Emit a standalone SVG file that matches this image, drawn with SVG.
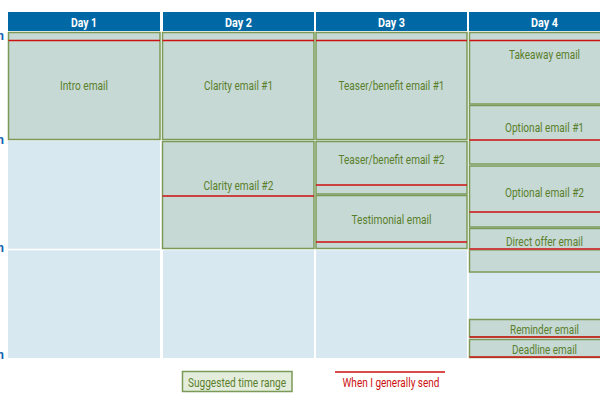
<svg xmlns="http://www.w3.org/2000/svg" width="600" height="400" viewBox="0 0 600 400">
<style>
.hdr{fill:#0069a5}
.hdrt{fill:#ffffff;font-family:Roboto,"DejaVu Sans",sans-serif;font-weight:bold;font-size:13px;text-anchor:middle}
.cell{fill:#d8e8f1}
.box{fill:#c6d9d4;stroke:#7b9a58;stroke-width:1.5}
.send{stroke:#cc1111;stroke-width:1.5}
.lbl{fill:#5a7f2c;font-family:Roboto,"DejaVu Sans",sans-serif;font-size:13px;text-anchor:middle}
.time{fill:#1060b0;font-family:Roboto,"DejaVu Sans",sans-serif;font-size:12px;font-weight:bold;text-anchor:end}
.sep{stroke:#ffffff;stroke-width:1.5}
</style>
<rect width="600" height="400" fill="#ffffff"/>
<g id="grid">
<rect class="hdr" x="8" y="12" width="152" height="19"/>
<rect class="hdr" x="163" y="12" width="151" height="19"/>
<rect class="hdr" x="316" y="12" width="151" height="19"/>
<rect class="hdr" x="469" y="12" width="151" height="19"/>
<text class="hdrt" x="84" y="26.5" textLength="26" lengthAdjust="spacingAndGlyphs">Day 1</text>
<text class="hdrt" x="238.5" y="26.5" textLength="27" lengthAdjust="spacingAndGlyphs">Day 2</text>
<text class="hdrt" x="391.5" y="26.5" textLength="27" lengthAdjust="spacingAndGlyphs">Day 3</text>
<text class="hdrt" x="544.5" y="26.5" textLength="27" lengthAdjust="spacingAndGlyphs">Day 4</text>
<rect class="cell" x="8" y="33" width="152" height="325"/>
<rect class="cell" x="163" y="33" width="151" height="325"/>
<rect class="cell" x="316" y="33" width="151" height="325"/>
<rect class="cell" x="469" y="33" width="151" height="325"/>
<line class="sep" x1="8" y1="140" x2="620" y2="140"/>
<line class="sep" x1="8" y1="249.5" x2="620" y2="249.5"/>
<text class="time" x="4" y="40">8am</text>
<text class="time" x="4" y="144">12pm</text>
<text class="time" x="4" y="252">4pm</text>
<text class="time" x="4" y="359">8pm</text>
</g>
<g id="intro">
<rect class="box" x="8.5" y="32.5" width="151.5" height="107"/>
<line class="send" x1="8.5" y1="40.5" x2="160" y2="40.5"/>
<text class="lbl" x="84" y="89.5" textLength="48" lengthAdjust="spacingAndGlyphs">Intro email</text>
</g>
<g id="clarity1">
<rect class="box" x="162.5" y="32.5" width="151.5" height="107"/>
<line class="send" x1="162.5" y1="40.5" x2="314" y2="40.5"/>
<text class="lbl" x="238.5" y="89.5" textLength="69" lengthAdjust="spacingAndGlyphs">Clarity email #1</text>
</g>
<g id="clarity2">
<rect class="box" x="162.5" y="141.5" width="151.5" height="107"/>
<line class="send" x1="162.5" y1="196" x2="314" y2="196"/>
<text class="lbl" x="238.5" y="189.5" textLength="70" lengthAdjust="spacingAndGlyphs">Clarity email #2</text>
</g>
<g id="teaser1">
<rect class="box" x="316" y="32.5" width="151" height="107"/>
<line class="send" x1="316" y1="40.5" x2="467" y2="40.5"/>
<text class="lbl" x="391.5" y="89.5" textLength="106" lengthAdjust="spacingAndGlyphs">Teaser/benefit email #1</text>
</g>
<g id="teaser2">
<rect class="box" x="316" y="141.5" width="151" height="52.5"/>
<line class="send" x1="316" y1="185" x2="467" y2="185"/>
<text class="lbl" x="391.5" y="163.5" textLength="106" lengthAdjust="spacingAndGlyphs">Teaser/benefit email #2</text>
</g>
<g id="testimonial">
<rect class="box" x="316" y="195.5" width="151" height="53"/>
<line class="send" x1="316" y1="242" x2="467" y2="242"/>
<text class="lbl" x="391.5" y="223.5" textLength="80" lengthAdjust="spacingAndGlyphs">Testimonial email</text>
</g>
<g id="takeaway">
<rect class="box" x="469.5" y="32.5" width="151" height="71.5"/>
<line class="send" x1="469.5" y1="40.5" x2="620" y2="40.5"/>
<text class="lbl" x="544.5" y="58.5" textLength="71" lengthAdjust="spacingAndGlyphs">Takeaway email</text>
</g>
<g id="optional1">
<rect class="box" x="469.5" y="105.5" width="151" height="58.5"/>
<line class="send" x1="469.5" y1="140" x2="620" y2="140"/>
<text class="lbl" x="544.5" y="131.5" textLength="79" lengthAdjust="spacingAndGlyphs">Optional email #1</text>
</g>
<g id="optional2">
<rect class="box" x="469.5" y="166" width="151" height="61"/>
<line class="send" x1="469.5" y1="212" x2="620" y2="212"/>
<text class="lbl" x="544.5" y="196.5" textLength="79" lengthAdjust="spacingAndGlyphs">Optional email #2</text>
</g>
<g id="directoffer">
<rect class="box" x="469.5" y="228.5" width="151" height="43.5"/>
<line class="send" x1="469.5" y1="249" x2="620" y2="249"/>
<line x1="469.5" y1="250.5" x2="620" y2="250.5" stroke="#9bb88a" stroke-width="1"/>
<text class="lbl" x="544.5" y="245.5" textLength="77" lengthAdjust="spacingAndGlyphs">Direct offer email</text>
</g>
<g id="reminder">
<rect class="box" x="469.5" y="319.5" width="151" height="17.5"/>
<line class="send" x1="469.5" y1="337" x2="620" y2="337"/>
<text class="lbl" x="544.5" y="333.5" textLength="69" lengthAdjust="spacingAndGlyphs">Reminder email</text>
</g>
<g id="deadline">
<rect class="box" x="469.5" y="339.5" width="151" height="18"/>
<line class="send" x1="469.5" y1="357" x2="620" y2="357"/>
<text class="lbl" x="544.5" y="353.5" textLength="65" lengthAdjust="spacingAndGlyphs">Deadline email</text>
</g>
<g id="connectors"></g>
<g id="legend">
<rect x="182.5" y="371.5" width="109.5" height="20" fill="#e4ecdc" stroke="#7b9a58" stroke-width="1.5"/>
<text class="lbl" x="237" y="386.5" textLength="98" lengthAdjust="spacingAndGlyphs">Suggested time range</text>
<line class="send" x1="335" y1="372" x2="445" y2="372"/>
<text x="391" y="386.5" fill="#cc1111" font-family="Roboto, 'DejaVu Sans', sans-serif" font-size="13" text-anchor="middle" textLength="97" lengthAdjust="spacingAndGlyphs">When I generally send</text>
</g>
</svg>
